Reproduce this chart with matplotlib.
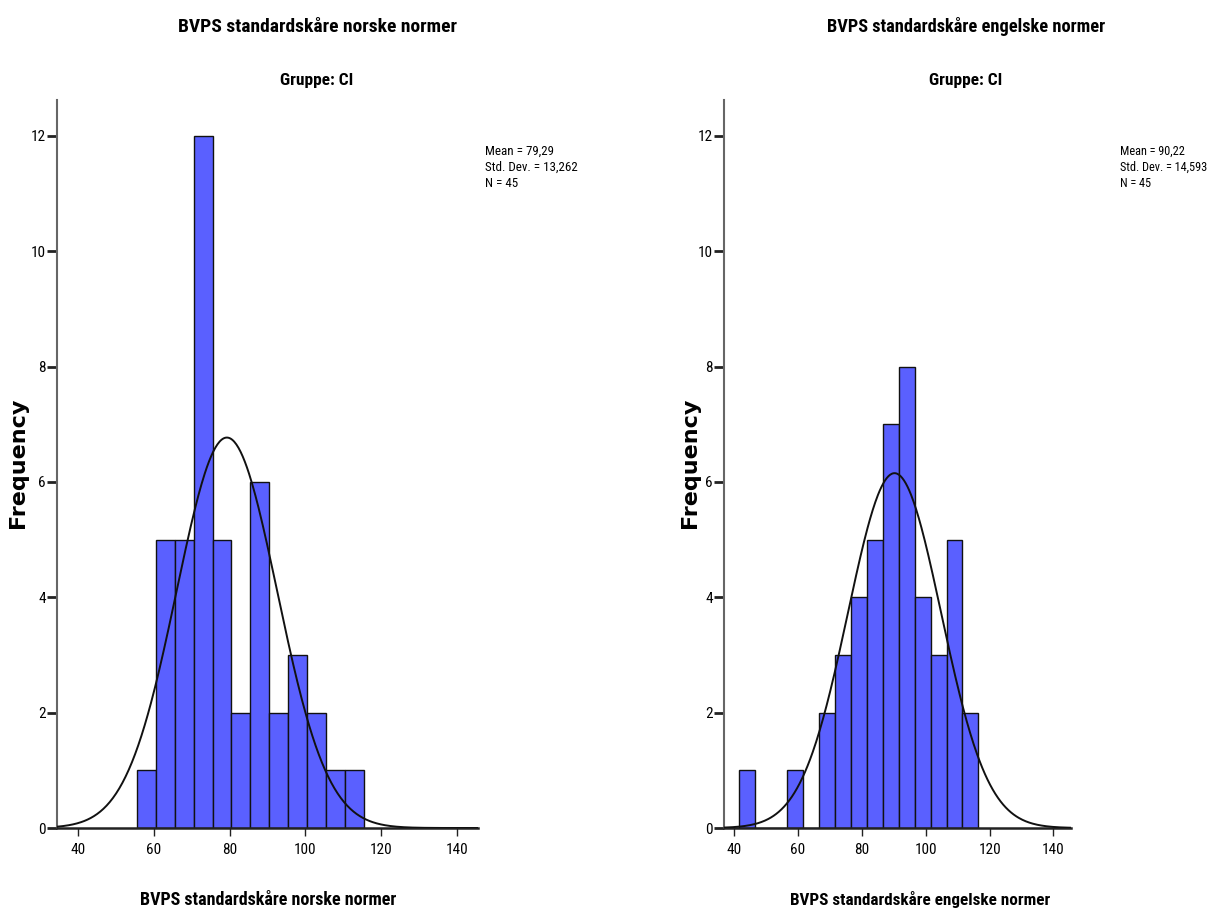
import numpy as np
import matplotlib.pyplot as plt

plt.rcParams['font.family'] = ['Roboto Condensed', 'DejaVu Sans']

# bin left edges and counts
norsk_left = [55.5, 60.5, 65.5, 70.5, 75.5, 80.5, 85.5, 90.5, 95.5, 100.5, 105.5, 110.5]
norsk_counts = [1, 5, 5, 12, 5, 2, 6, 2, 3, 2, 1, 1]
norsk_stats = (79.29, 13.262, 45)

engelsk_left = [41.5, 46.5, 51.5, 56.5, 61.5, 66.5, 71.5, 76.5, 81.5, 86.5, 91.5, 96.5, 101.5, 106.5, 111.5]
engelsk_counts = [1, 0, 0, 1, 0, 2, 3, 4, 5, 7, 8, 4, 3, 5, 2]
engelsk_stats = (90.22, 14.593, 45)

x_ticks = [40, 60, 80, 100, 120, 140]
y_ticks = [0, 2, 4, 6, 8, 10, 12]
bin_w = 5
bar_color = '#5a60ff'


def hist_panel(ax, left, counts, stats, xlim):
    ax.bar(left, counts, width=bin_w, align='edge', color=bar_color,
           edgecolor='#111111', linewidth=1.0, zorder=2)
    mean, sd, n = stats
    xs = np.linspace(xlim[0], xlim[1], 400)
    ys = n * bin_w / (sd * np.sqrt(2 * np.pi)) * np.exp(-0.5 * ((xs - mean) / sd) ** 2)
    ax.plot(xs, ys, color='#111111', linewidth=1.4, zorder=3)
    ax.set_xlim(xlim)
    ax.set_ylim(0, 12.62)
    ax.set_xticks(x_ticks)
    ax.set_yticks(y_ticks)
    ax.spines['top'].set_visible(False)
    ax.spines['right'].set_visible(False)
    ax.spines['left'].set_color('#666666')
    ax.spines['left'].set_linewidth(1.5)
    ax.spines['bottom'].set_color('#222222')
    ax.spines['bottom'].set_linewidth(1.8)
    ax.tick_params(axis='y', length=7, width=2, color='#222222', labelsize=11, pad=1)
    ax.tick_params(axis='x', length=6, width=1, color='#222222', labelsize=11, pad=5)


fig = plt.figure(figsize=(12.15, 9.17), dpi=100)

ax1 = fig.add_axes([57 / 1215, 1 - 828 / 917, (478 - 57) / 1215, (828 - 100) / 917])
hist_panel(ax1, norsk_left, norsk_counts, norsk_stats, (34.5, 145.5))

ax2 = fig.add_axes([724 / 1215, 1 - 828 / 917, (1071 - 724) / 1215, (828 - 100) / 917])
hist_panel(ax2, engelsk_left, engelsk_counts, engelsk_stats, (36.8, 145.5))

titles = ['BVPS standardskåre norske normer', 'BVPS standardskåre engelske normer']
for cx, t, fs in zip([317, 966], titles, [14, 13.2]):
    fig.text(cx / 1215, 1 - 27 / 917, t, ha='center', va='center', fontsize=fs, fontweight='bold')
    fig.text(cx / 1215, 1 - 80 / 917, 'Gruppe: CI', ha='center', va='center', fontsize=12.5, fontweight='bold')

for cx, t, fs in zip([268, 920], titles, [13, 12.3]):
    fig.text(cx / 1215, 1 - 900 / 917, t, ha='center', va='center', fontsize=fs, fontweight='bold')

for cx in [18, 690]:
    fig.text(cx / 1215, 1 - 463 / 917, 'Frequency', ha='center', va='center', rotation=90,
             fontsize=16, fontweight='bold', family='DejaVu Sans')

for tx, fs, (mean, sd, n) in zip([485, 1120], [9.4, 8.8], [norsk_stats, engelsk_stats]):
    lines = ['Mean = ' + f'{mean:.2f}'.replace('.', ','),
             'Std. Dev. = ' + f'{sd:.3f}'.replace('.', ','),
             'N = ' + str(n)]
    for i, s in enumerate(lines):
        fig.text(tx / 1215, 1 - (151.5 + 16 * i) / 917, s, ha='left', va='center', fontsize=fs)

fig.savefig('out.png', dpi=100)
